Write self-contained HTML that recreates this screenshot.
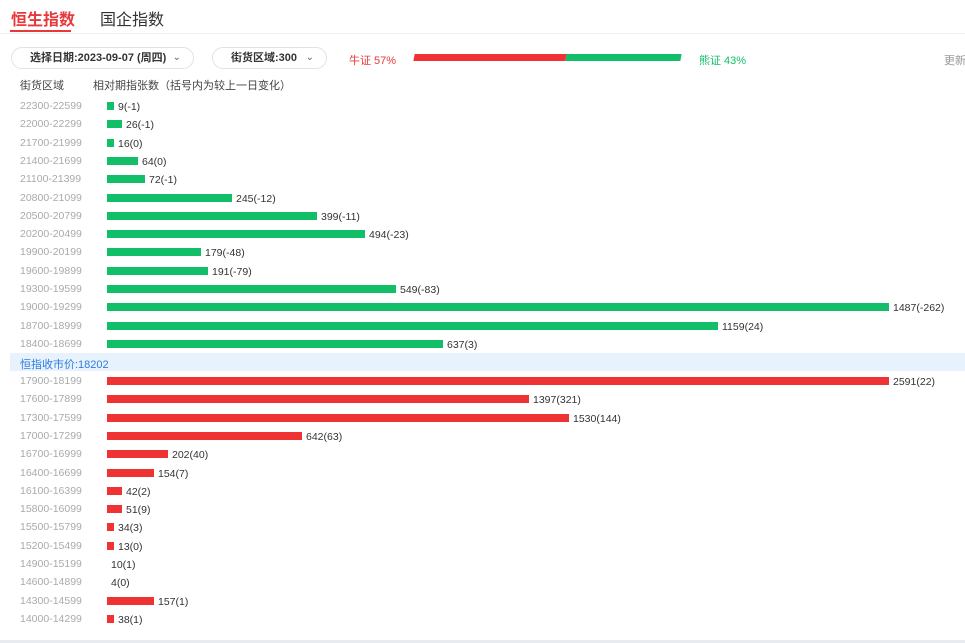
<!DOCTYPE html>
<html><head><meta charset="utf-8"><style>
*{margin:0;padding:0;box-sizing:border-box}
body{width:965px;height:643px;background:#fff;position:relative;overflow:hidden;font-family:"Liberation Sans","Noto Sans CJK SC",sans-serif}
.a{position:absolute;white-space:nowrap}
.r{position:absolute;left:20px;font-size:10.5px;color:#aaa;line-height:12px}
.b{position:absolute;left:107px;height:8px}
.g{background:#12bf68}.d{background:#ef3233}
.l{position:absolute;font-size:10.5px;color:#333;line-height:12px}
.pill{position:absolute;top:47px;height:22px;border:1px solid #e2e2e2;border-radius:11px;font-size:11px;font-weight:bold;color:#333;line-height:20px;padding-left:18px}
.pill span{position:absolute;right:12px;top:0;font-weight:normal;color:#666;font-size:10px}
</style></head><body>
<div class="a" style="left:11px;top:6px;font-size:16px;font-weight:bold;color:#e8393a">恒生指数</div>
<div class="a" style="left:10px;top:30px;width:61px;height:2px;background:#e8393a"></div>
<div class="a" style="left:100px;top:6px;font-size:16px;color:#333">国企指数</div>
<div class="a" style="left:0;top:33px;width:965px;height:1px;background:#eee"></div>
<div class="pill" style="left:11px;width:183px">选择日期:2023-09-07 (周四)<span>⌄</span></div>
<div class="pill" style="left:212px;width:115px">街货区域:300<span>⌄</span></div>
<div class="a" style="left:349px;top:52px;font-size:11px;color:#e8393a">牛证 57%</div>
<div class="a" style="left:414px;top:54px;width:152px;height:7px;background:#ef3233;transform:skewX(-10deg)"></div>
<div class="a" style="left:566px;top:54px;width:115px;height:7px;background:#12bf68;transform:skewX(-10deg)"></div>
<div class="a" style="left:699px;top:52px;font-size:11px;color:#12bf68">熊证 43%</div>
<div class="a" style="left:944px;top:52px;font-size:11px;color:#999">更新</div>
<div class="a" style="left:20px;top:77px;font-size:11px;color:#444">街货区域</div>
<div class="a" style="left:93px;top:77px;font-size:11px;color:#444">相对期指张数（括号内为较上一日变化）</div>
<div class="a" style="left:10px;top:353px;width:955px;height:18px;background:#e8f2fd"></div>
<div class="a" style="left:20px;top:356px;font-size:11px;color:#2b7de0">恒指收市价:18202</div>
<div class="a" style="left:0;top:640px;width:965px;height:3px;background:#e8ebef"></div>
<div id="c"></div>
<script>
var g=[["22300-22599",114,"9(-1)"],["22000-22299",122,"26(-1)"],["21700-21999",114,"16(0)"],["21400-21699",138,"64(0)"],["21100-21399",145,"72(-1)"],["20800-21099",232,"245(-12)"],["20500-20799",317,"399(-11)"],["20200-20499",365,"494(-23)"],["19900-20199",201,"179(-48)"],["19600-19899",208,"191(-79)"],["19300-19599",396,"549(-83)"],["19000-19299",889,"1487(-262)"],["18700-18999",718,"1159(24)"],["18400-18699",443,"637(3)"]];
var r=[["17900-18199",889,"2591(22)"],["17600-17899",529,"1397(321)"],["17300-17599",569,"1530(144)"],["17000-17299",302,"642(63)"],["16700-16999",168,"202(40)"],["16400-16699",154,"154(7)"],["16100-16399",122,"42(2)"],["15800-16099",122,"51(9)"],["15500-15799",114,"34(3)"],["15200-15499",114,"13(0)"],["14900-15199",107,"10(1)"],["14600-14899",107,"4(0)"],["14300-14599",154,"157(1)"],["14000-14299",114,"38(1)"]];
var h="";
function rows(a,y0,cls){a.forEach(function(d,i){var y=y0+i*18.3;h+='<div class="r" style="top:'+(y-6)+'px">'+d[0]+'</div>';if(d[1]>107)h+='<div class="b '+cls+'" style="top:'+(y-4)+'px;width:'+(d[1]-107)+'px"></div>';h+='<div class="l" style="top:'+(y-5)+'px;left:'+(d[1]+4)+'px">'+d[2]+'</div>';});}
rows(g,106,"g");rows(r,381,"d");
document.getElementById("c").innerHTML=h;
</script>
</body></html>
